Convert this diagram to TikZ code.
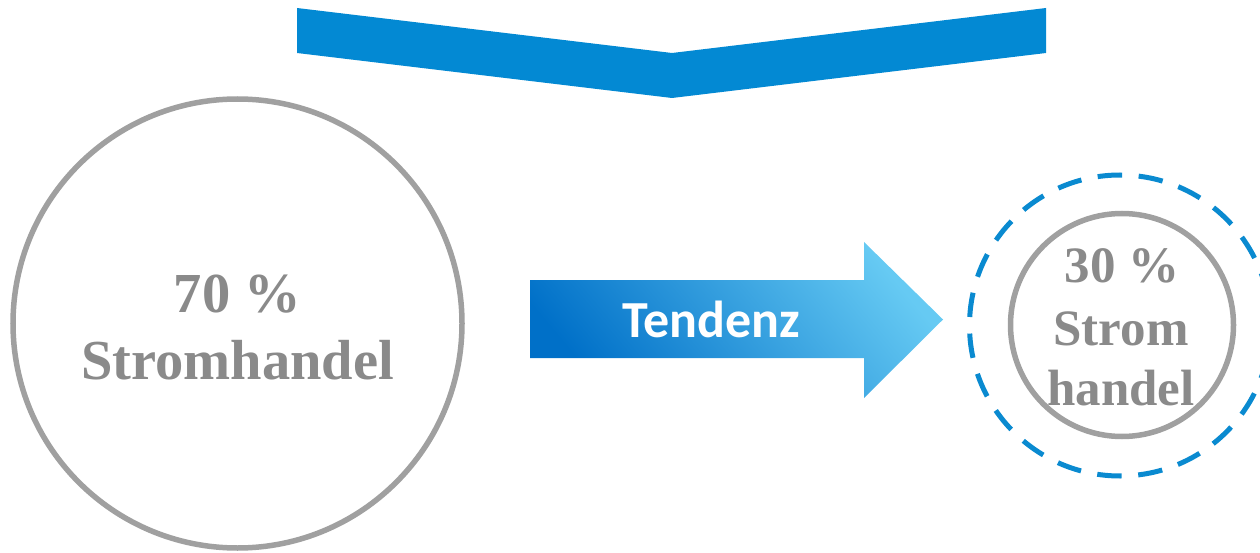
\documentclass[tikz,border=0pt]{standalone}
\usepackage{fontspec}
\setmainfont{Liberation Serif}
\newfontfamily\labelfont{Carlito}
\definecolor{chevblue}{HTML}{0389D3}
\definecolor{ringgray}{HTML}{A0A0A0}
\definecolor{textgray}{HTML}{8A8A8A}
\definecolor{dashblue}{HTML}{0A8AD0}
\definecolor{arrowdark}{HTML}{0070C8}
\definecolor{arrowlight}{HTML}{66CAF3}
\tikzset{
  ring/.style={circle, draw=ringgray, line width=5.5pt, inner sep=0pt},
  dashring/.style={circle, draw=dashblue, line width=5pt, inner sep=0pt,
    dash pattern=on 24.5pt off 16.6pt, dash phase=12.25pt},
  bigtext/.style={anchor=base, inner sep=0pt, text=textgray,
    font=\fontsize{56.5}{67}\selectfont\bfseries},
  smalltext/.style={anchor=base, inner sep=0pt, text=textgray,
    font=\fontsize{51}{61}\selectfont\bfseries},
  arrowtext/.style={anchor=base, inner sep=0pt, text=white,
    font=\labelfont\fontsize{52}{60}\selectfont\bfseries},
  arrowshade/.style={top color=arrowlight, bottom color=arrowdark, shading angle=-50},
}
\begin{document}
\begin{tikzpicture}[x=1pt,y=-1pt]
\useasboundingbox (0,0) rectangle (1260,553);
\clip (0,0) rectangle (1260,553);
% chevron
\fill[chevblue] (297,8) -- (672,53) -- (1046,8) -- (1046,53) -- (672,98) -- (297,53) -- cycle;
% big circle
\node[ring, minimum size=449pt] (big) at (237.5,323.5) {};
\node[bigtext] (bigpct) at (237.5,312) {70 \%};
\node[bigtext] (bigword) at (237.5,379) {Stromhandel};
% arrow
\shade[arrowshade] (530,280) -- (864,280) -- (864,242) -- (943,319.5) -- (864,398) -- (864,358) -- (530,358) -- cycle;
\node[arrowtext] (tend) at (711,337) {Tendenz};
% small circles
\node[dashring, minimum size=301pt] (outer) at (1120,325.5) {};
\node[ring, minimum size=223pt] (small) at (1122,325) {};
\node[smalltext] (smallpct) at (1122,283) {30 \%};
\node[smalltext] (smallw1) at (1121,345) {Strom};
\node[smalltext] (smallw2) at (1121,405) {handel};
\end{tikzpicture}
\end{document}
